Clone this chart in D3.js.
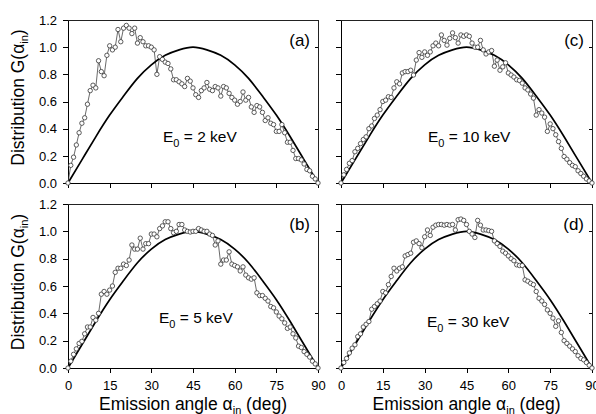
<html>
<head>
<meta charset="utf-8">
<title>Distribution G</title>
<script src="https://cdn.jsdelivr.net/npm/d3@7"></script>
<style>
	body { margin: 0; background: #fff; }
	text { font-family: Arial, "Liberation Sans", sans-serif; fill: #000; }
	.axis path, .axis line { fill: none; stroke: #000; shape-rendering: crispEdges; }
</style>
</head>
<body>
<script>
	// emission angle, one point per degree
	var angles = [0,1,2,3,4,5,6,7,8,9,10,11,12,13,14,15,16,17,18,19,20,21,22,23,24,25,26,27,28,29,
		30,31,32,33,34,35,36,37,38,39,40,41,42,43,44,45,46,47,48,49,50,51,52,53,54,55,56,57,58,59,
		60,61,62,63,64,65,66,67,68,69,70,71,72,73,74,75,76,77,78,79,80,81,82,83,84,85,86,87,88,89,90];

	var dist2keV = [0,0.13,0.19,0.28,0.37,0.44,0.48,0.58,0.68,0.72,
		0.70,0.90,0.82,0.79,0.94,1.01,0.98,1.00,1.13,1.04,
		1.14,1.16,1.14,1.10,1.14,1.03,1.07,1.04,1.01,1.01,
		1.00,0.98,0.80,0.93,0.91,0.89,0.88,0.84,0.76,0.76,
		0.745,0.73,0.71,0.77,0.75,0.70,0.65,0.63,0.68,0.70,
		0.74,0.69,0.68,0.71,0.70,0.64,0.71,0.70,0.66,0.63,
		0.61,0.58,0.60,0.67,0.61,0.63,0.56,0.52,0.57,0.56,
		0.52,0.46,0.48,0.44,0.43,0.38,0.38,0.43,0.37,0.30,
		0.30,0.24,0.18,0.18,0.17,0.14,0.10,0.09,0.05,0.03,
		0];
	var dist5keV = [0,0.05,0.10,0.14,0.18,0.195,0.25,0.30,0.30,0.37,
		0.35,0.40,0.54,0.56,0.54,0.57,0.60,0.70,0.73,0.73,
		0.76,0.75,0.79,0.90,0.87,0.87,0.95,0.87,0.91,0.91,
		0.98,0.98,0.96,1.02,1.04,1.07,1.07,1.02,0.99,1.00,
		1.05,1.05,1.01,1.00,0.995,1.00,1.00,1.02,1.01,1.00,
		1.00,0.98,0.97,0.90,0.93,0.76,0.79,0.79,0.85,0.76,
		0.75,0.74,0.71,0.74,0.68,0.66,0.65,0.66,0.55,0.53,
		0.53,0.51,0.49,0.45,0.44,0.41,0.38,0.36,0.33,0.29,
		0.30,0.25,0.22,0.16,0.15,0.12,0.10,0.08,0.05,0.03,
		0];
	var dist10keV = [0,0.06,0.10,0.145,0.165,0.23,0.255,0.29,0.32,0.34,
		0.40,0.42,0.475,0.50,0.54,0.60,0.61,0.635,0.63,0.70,
		0.745,0.73,0.81,0.82,0.82,0.83,0.795,0.905,0.96,0.925,
		0.965,0.94,0.965,1.01,1.03,1.01,1.09,1.05,1.015,1.065,
		1.105,1.07,1.03,1.09,1.08,1.09,1.08,1.03,1.00,1.00,
		1.05,0.98,0.95,0.965,0.975,0.86,0.905,0.83,0.855,0.885,
		0.81,0.795,0.78,0.76,0.755,0.735,0.70,0.685,0.655,0.625,
		0.50,0.54,0.515,0.485,0.38,0.435,0.40,0.355,0.305,0.255,
		0.195,0.175,0.15,0.13,0.12,0.09,0.07,0.05,0.03,0.015,
		0];
	var dist30keV = [0,0.04,0.07,0.11,0.145,0.17,0.23,0.25,0.30,0.32,
		0.34,0.43,0.45,0.47,0.49,0.56,0.55,0.61,0.67,0.73,
		0.71,0.73,0.74,0.82,0.83,0.84,0.92,0.93,0.91,0.88,
		0.96,1.01,0.97,1.03,1.045,1.05,1.05,1.045,1.05,1.045,
		1.05,1.01,1.085,1.09,1.08,1.05,1.00,0.98,0.955,1.08,
		1.045,1.01,1.01,1.005,1.00,0.93,0.91,0.89,0.855,0.84,
		0.82,0.80,0.785,0.755,0.75,0.75,0.645,0.635,0.62,0.61,
		0.56,0.51,0.49,0.465,0.425,0.40,0.365,0.305,0.345,0.26,
		0.20,0.18,0.16,0.14,0.12,0.09,0.07,0.06,0.04,0.02,
		0];

	// smooth model curve
	var modelAngles = [0,5,10,15,20,25,30,35,40,45,50,55,60,65,70,75,80,85,90];
	var modelValues = [0,0.17,0.34,0.50,0.64,0.77,0.87,0.94,0.98,1.00,0.98,0.94,0.87,0.77,0.64,0.50,0.34,0.17,0];

	var xTicks = [0,15,30,45,60,75,90];
	var yTicks = [0,0.2,0.4,0.6,0.8,1.0,1.2];
	var rightTicks = [0.4,1.0];

	var panels = [
		{tag:"(a)", energy:"2",  data:dist2keV,  left:68,  top:20,  w:250, h:163, col:0, row:0, lx:163, ly:142},
		{tag:"(c)", energy:"10", data:dist10keV, left:341, top:20,  w:251, h:163, col:1, row:0, lx:428, ly:142},
		{tag:"(b)", energy:"5",  data:dist5keV,  left:68,  top:204, w:250, h:164, col:0, row:1, lx:159, ly:323},
		{tag:"(d)", energy:"30", data:dist30keV, left:341, top:204, w:251, h:164, col:1, row:1, lx:427, ly:327}
	];

	var svg = d3.select("body")
		.append("svg")
		.attr("width", 596)
		.attr("height", 414);

	panels.forEach(function(p){
		var x = d3.scaleLinear().domain([0,90]).range([p.left, p.left+p.w]);
		var y = d3.scaleLinear().domain([0,1.2]).range([p.top+p.h, p.top]);
		var g = svg.append("g");

		// frame
		g.append("rect")
			.attr("x", p.left).attr("y", p.top)
			.attr("width", p.w).attr("height", p.h)
			.attr("fill", "none")
			.attr("stroke", "#222")
			.attr("stroke-width", 1)
			.attr("shape-rendering", "crispEdges");

		var yAxis = g.append("g")
			.attr("class","axis")
			.attr("transform","translate(" + p.left + ",0)")
			.call(d3.axisLeft(y).tickValues(yTicks).tickSize(5).tickSizeOuter(0).tickPadding(6)
				.tickFormat(p.col == 0 ? d3.format(".1f") : function(){ return ""; }));
		yAxis.selectAll("text").attr("font-size", 13).attr("font-family", "Arial, 'Liberation Sans', sans-serif");

		var xAxis = g.append("g")
			.attr("class","axis")
			.attr("transform","translate(0," + (p.top+p.h) + ")")
			.call(d3.axisBottom(x).tickValues(xTicks).tickSize(5).tickSizeOuter(0).tickPadding(8)
				.tickFormat(p.row == 1 ? d3.format("d") : function(){ return ""; }));
		xAxis.selectAll("text").attr("font-size", 13).attr("font-family", "Arial, 'Liberation Sans', sans-serif");

		// small inward ticks on the right side
		g.selectAll(".rt")
			.data(rightTicks)
			.enter()
			.append("line")
			.attr("x1", p.left+p.w).attr("x2", p.left+p.w-3)
			.attr("y1", function(d){ return Math.round(y(d))+0.5; })
			.attr("y2", function(d){ return Math.round(y(d))+0.5; })
			.attr("stroke", "#000");

		var pts = angles.map(function(a, i){ return {a:a, v:p.data[i]}; });

		g.append("path")
			.datum(pts)
			.attr("fill","none")
			.attr("stroke","#444")
			.attr("stroke-width",0.8)
			.attr("d", d3.line().x(function(d){ return x(d.a); }).y(function(d){ return y(d.v); }));

		var model = modelAngles.map(function(a, i){ return {a:a, v:modelValues[i]}; });
		g.append("path")
			.datum(model)
			.attr("fill","none")
			.attr("stroke","#000")
			.attr("stroke-width",1.7)
			.attr("d", d3.line().curve(d3.curveNatural).x(function(d){ return x(d.a); }).y(function(d){ return y(d.v); }));

		g.selectAll(".pt")
			.data(pts)
			.enter()
			.append("circle")
			.attr("cx", function(d){ return x(d.a); })
			.attr("cy", function(d){ return y(d.v); })
			.attr("r", 2.2)
			.attr("fill","#fff")
			.attr("stroke","#333")
			.attr("stroke-width",0.8);

		// panel tag
		g.append("text")
			.attr("x", p.left+p.w-8)
			.attr("y", p.top+26)
			.attr("text-anchor","end")
			.attr("font-size",17)
			.text(p.tag);

		// energy label
		var e = g.append("text")
			.attr("x", p.lx)
			.attr("y", p.ly)
			.attr("font-size",15.5);
		e.append("tspan").text("E");
		e.append("tspan").attr("dy",5).attr("font-size",11).text("0");
		e.append("tspan").attr("dy",-5).text(" = " + p.energy + " keV");

		if (p.col == 0) {
			var t = g.append("text")
				.attr("transform","translate(24," + (p.top+p.h/2-4) + ") rotate(-90)")
				.attr("text-anchor","middle")
				.attr("font-size",17.5);
			t.append("tspan").text("Distribution G(\u03b1");
			t.append("tspan").attr("dy",4).attr("font-size",11).text("in");
			t.append("tspan").attr("dy",-4).text(")");
		}
		if (p.row == 1) {
			var xt = g.append("text")
				.attr("x", p.left+p.w/2)
				.attr("y", 410)
				.attr("text-anchor","middle")
				.attr("font-size",17.5);
			xt.append("tspan").text("Emission angle \u03b1");
			xt.append("tspan").attr("dy",4).attr("font-size",11).text("in");
			xt.append("tspan").attr("dy",-4).text(" (deg)");
		}
	});
</script>
</body>
</html>
